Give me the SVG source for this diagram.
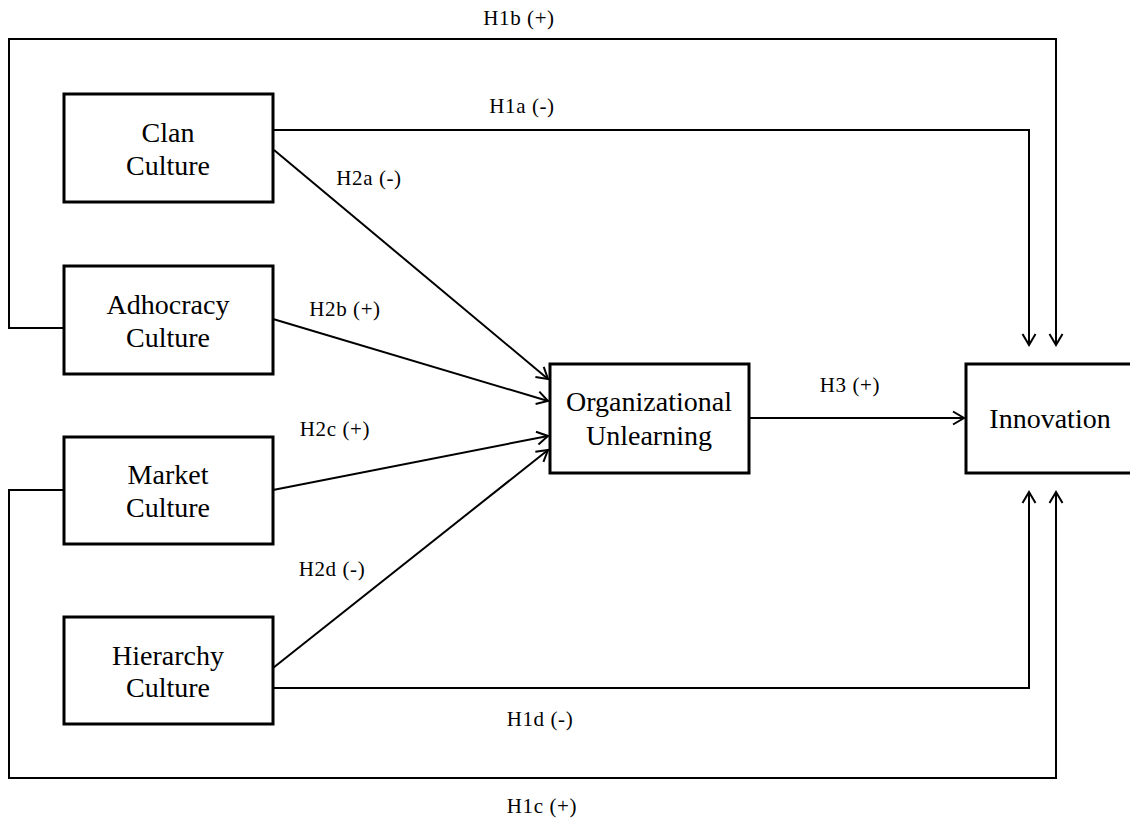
<svg xmlns="http://www.w3.org/2000/svg" width="1130" height="822" viewBox="0 0 1130 822">
<style>
.box{fill:#fff;stroke:#000;stroke-width:3}
.t{font-family:"Liberation Serif","Times New Roman",serif;font-size:28px;text-anchor:middle;fill:#000}
.lbl{font-family:"Liberation Serif","Times New Roman",serif;font-size:21px;letter-spacing:0.6px;text-anchor:middle;fill:#000}
.ln{fill:none;stroke:#000;stroke-width:2}
</style>
<defs>
<marker id="arr" markerUnits="userSpaceOnUse" markerWidth="16" markerHeight="16" refX="13" refY="8" orient="auto">
<path d="M2,1.5 L13,8 L2,14.5" fill="none" stroke="#000" stroke-width="2"/>
</marker>
</defs>
<g id="connectors">
<polyline class="ln" points="273,130 1029,130 1029,345" marker-end="url(#arr)"/>
<polyline class="ln" points="64,328 9,328 9,39 1056,39 1056,345" marker-end="url(#arr)"/>
<polyline class="ln" points="64,490 9,490 9,778 1056,778 1056,492" marker-end="url(#arr)"/>
<polyline class="ln" points="273,688 1029,688 1029,492" marker-end="url(#arr)"/>
<line class="ln" x1="274" y1="150" x2="548" y2="379" marker-end="url(#arr)"/>
<line class="ln" x1="273" y1="319" x2="548" y2="401" marker-end="url(#arr)"/>
<line class="ln" x1="273" y1="490" x2="548" y2="436" marker-end="url(#arr)"/>
<line class="ln" x1="273" y1="668" x2="548" y2="450" marker-end="url(#arr)"/>
<line class="ln" x1="749" y1="418" x2="964" y2="418" marker-end="url(#arr)"/>
<text class="lbl" x="519" y="25">H1b (+)</text>
<text class="lbl" x="522" y="113">H1a (-)</text>
<text class="lbl" x="369" y="185">H2a (-)</text>
<text class="lbl" x="345" y="316">H2b (+)</text>
<text class="lbl" x="335" y="436">H2c (+)</text>
<text class="lbl" x="332" y="576">H2d (-)</text>
<text class="lbl" x="850" y="392">H3 (+)</text>
<text class="lbl" x="540" y="726">H1d (-)</text>
<text class="lbl" x="542" y="813">H1c (+)</text>
</g>
<g id="clan">
<rect class="box" x="64" y="94" width="209" height="108"/>
<text class="t" x="168" y="142">Clan</text>
<text class="t" x="168" y="175">Culture</text>
</g>
<g id="adhocracy">
<rect class="box" x="64" y="266" width="209" height="108"/>
<text class="t" x="168" y="314">Adhocracy</text>
<text class="t" x="168" y="347">Culture</text>
</g>
<g id="market">
<rect class="box" x="64" y="437" width="209" height="107"/>
<text class="t" x="168" y="484">Market</text>
<text class="t" x="168" y="517">Culture</text>
</g>
<g id="hierarchy">
<rect class="box" x="64" y="617" width="209" height="107"/>
<text class="t" x="168" y="665">Hierarchy</text>
<text class="t" x="168" y="697">Culture</text>
</g>
<g id="unlearning">
<rect class="box" x="550" y="364" width="199" height="109"/>
<text class="t" x="649" y="411">Organizational</text>
<text class="t" x="649" y="445">Unlearning</text>
</g>
<g id="innovation">
<rect class="box" x="966" y="364" width="168" height="109"/>
<text class="t" x="1050" y="428">Innovation</text>
</g>
</svg>
